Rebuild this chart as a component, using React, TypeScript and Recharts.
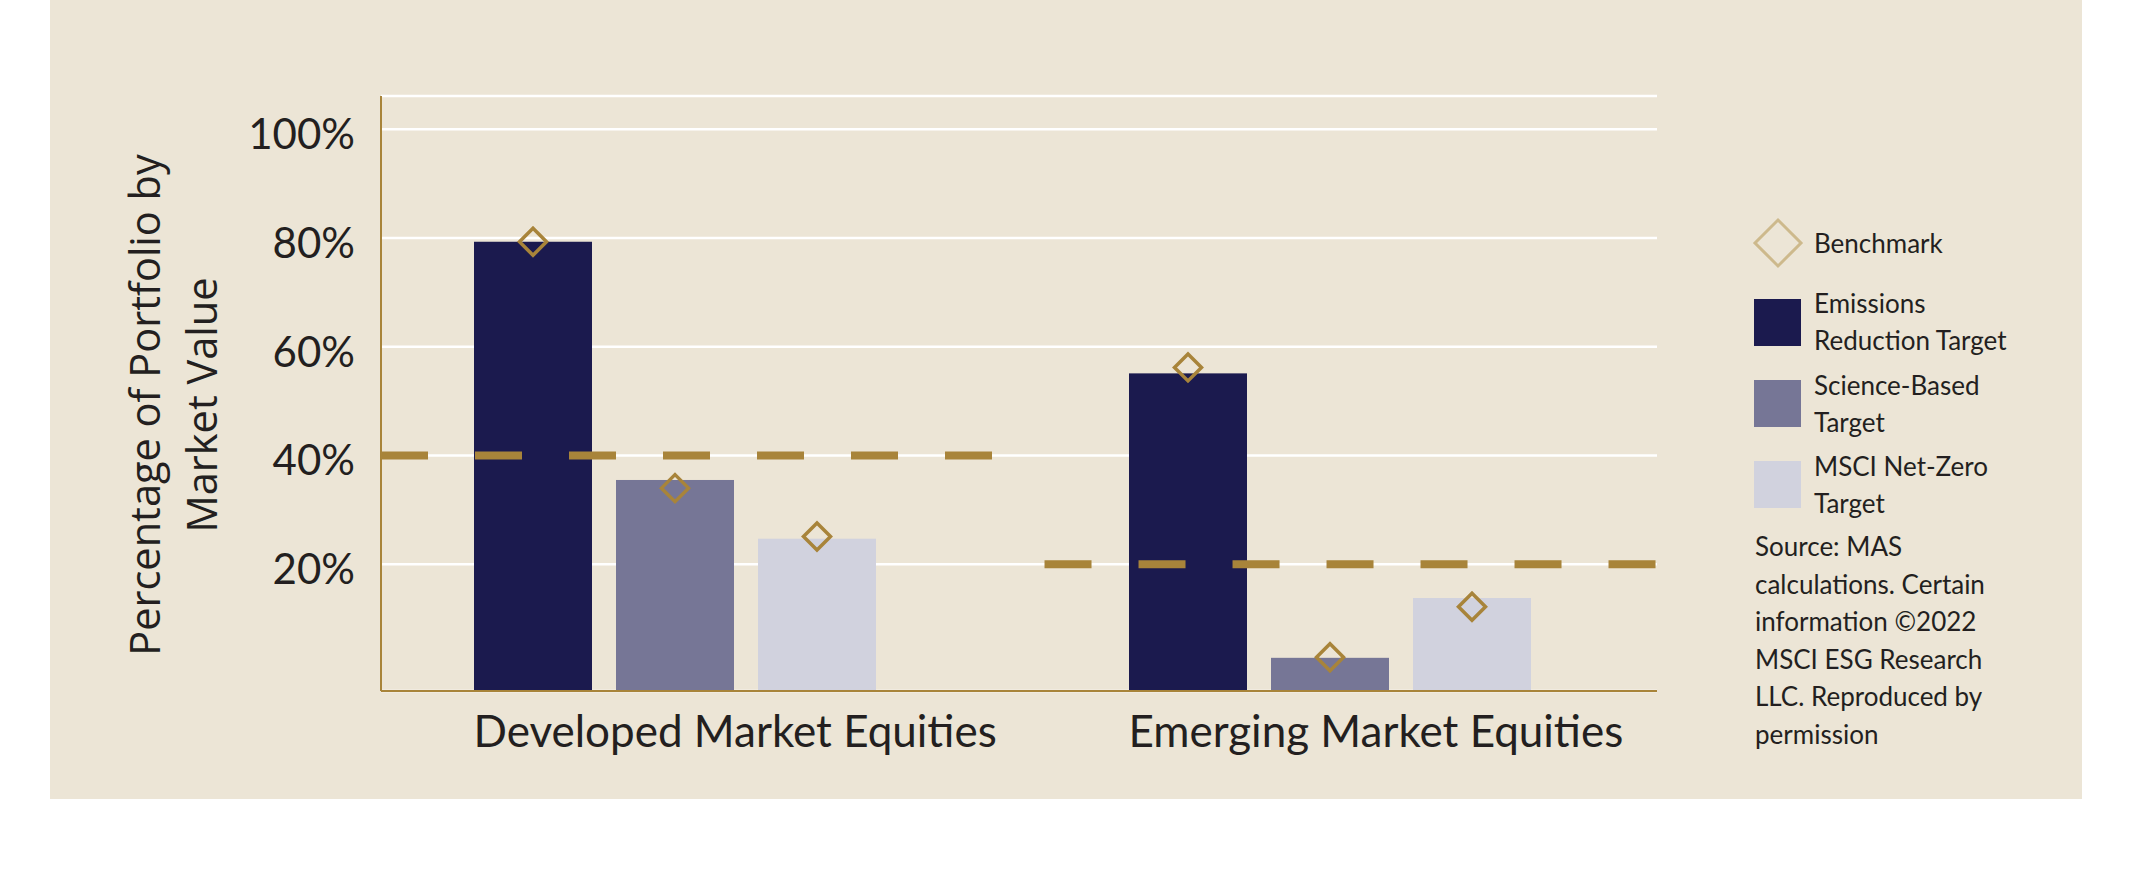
import React from 'react';
import { BarChart, Bar, XAxis, YAxis, CartesianGrid, ReferenceLine } from 'recharts';

// values, in percent of portfolio market value
const categories = ['Developed Market Equities', 'Emerging Market Equities'];
const emissionsReduction = [79.3, 55.1];
const scienceBased = [35.5, 2.8];
const netZero = [24.7, 13.8];
const benchEmissions = [79.3, 56.2];
const benchScience = [34.0, 2.9];
const benchNetZero = [25.1, 12.2];
const targetLines = [40, 20];
const yTicks = [20, 40, 60, 80, 100];

const seriesNames = ['Emissions Reduction Target', 'Science-Based Target', 'MSCI Net-Zero Target'];
const benchmarkName = 'Benchmark';
const yTitle = ['Percentage of Portfolio by', 'Market Value'];
const sourceNote =
  'Source: MAS calculations. Certain information ©2022 MSCI ESG Research LLC. Reproduced by permission';

const Y_MIN = -3.3;
const Y_MAX = 106.1;
const BAR_SIZE = 118;
const BAR_GAP = 24;
const GROUP_W = 3 * BAR_SIZE + 2 * BAR_GAP;
const TRIM = 0.04;

const GOLD = '#A8843A';
const LIGHT_GOLD = '#CDB98C';
const TEXT = '#231F20';
const colors = ['#1B1A4E', '#767696', '#D1D2DE'];

const rows = categories.map((name, i) => ({
  name,
  idx: i,
  ert: emissionsReduction[i],
  sbt: scienceBased[i],
  nz: netZero[i],
  ertB: benchEmissions[i],
  sbtB: benchScience[i],
  nzB: benchNetZero[i],
}));

const series = [
  { key: 'ert', bench: 'ertB', name: seriesNames[0], color: colors[0] },
  { key: 'sbt', bench: 'sbtB', name: seriesNames[1], color: colors[1] },
  { key: 'nz', bench: 'nzB', name: seriesNames[2], color: colors[2] },
];

const diamondPath = (cx: number, cy: number, r: number) =>
  `M${cx},${cy - r}L${cx + r},${cy}L${cx},${cy + r}L${cx - r},${cy}Z`;

// bar from the axis floor up to the value, with the benchmark diamond on it
const barWithBenchmark = (key: string, bench: string) => (props: any) => {
  const { x, y, width, height, fill, payload } = props;
  const bottom = y + height;
  const perUnit = height / (payload[key] - Y_MIN);
  const by = bottom - (payload[bench] - Y_MIN) * perUnit;
  const cx = x + width / 2;
  return (
    <g>
      <rect x={x} y={y} width={width} height={height} fill={fill} />
      <path d={diamondPath(cx, by, 13.5)} fill="none" stroke={GOLD} strokeWidth={3.5} />
    </g>
  );
};

const YTick = (props: any) => {
  const { x, y, payload } = props;
  return (
    <text x={x} y={y + 5} dy="0.355em" textAnchor="end" fontSize={42} fill={TEXT}>
      {payload.value}%
    </text>
  );
};

const XTick = (props: any) => {
  const { x, y, payload } = props;
  return (
    <text x={x - GROUP_W / 2} y={y + 54} textAnchor="start" fontSize={44} fill={TEXT}>
      {payload.value}
    </text>
  );
};

const legendTops = [298.6, 380, 461.3];
const legendTextTops = [285.3, 366.8, 447.9];

export default function App() {
  return (
    <div style={{ position: 'absolute', left: 0, top: 0, width: 2134, height: 869, fontFamily: 'Lato', color: TEXT }}>
      <div style={{ position: 'absolute', left: 50, top: 0, width: 2032, height: 799, background: '#ECE5D6' }} />
      <div style={{ position: 'absolute', left: 0, top: 0 }}>
        <BarChart
          width={2134}
          height={869}
          data={rows}
          margin={{ top: 96, right: 477, bottom: 118, left: 0 }}
          barSize={BAR_SIZE}
          barGap={BAR_GAP}
        >
          <CartesianGrid vertical={false} stroke="#FFFFFF" strokeWidth={2.5} />
          <XAxis
            dataKey="name"
            height={60}
            padding={{ left: -34, right: 0 }}
            tickLine={false}
            tickSize={0}
            interval={0}
            axisLine={{ stroke: GOLD, strokeWidth: 2 }}
            tick={<XTick />}
          />
          {/* plain 0..n axis spanning the plot, used to place the target segments per category */}
          <XAxis
            xAxisId="band"
            dataKey="idx"
            type="number"
            domain={[0, categories.length]}
            allowDataOverflow
            hide
          />
          <YAxis
            width={381}
            domain={[Y_MIN, Y_MAX]}
            allowDataOverflow
            ticks={yTicks}
            tickLine={false}
            tickSize={0}
            tickMargin={26}
            axisLine={{ stroke: GOLD, strokeWidth: 2 }}
            tick={<YTick />}
            label={{
              content: () => (
                <text
                  transform="rotate(-90)"
                  textAnchor="middle"
                  fontSize={41.5}
                  fill={TEXT}
                  style={{ fontFamily: '"Open Sans"' }}
                >
                  <tspan x={-405} y={160}>{yTitle[0]}</tspan>
                  <tspan x={-405} y={217}>{yTitle[1]}</tspan>
                </text>
              ),
            }}
          />
          {series.map((s) => (
            <Bar
              key={s.key}
              name={s.name}
              dataKey={(d: any) => [Y_MIN, d[s.key]]}
              fill={s.color}
              isAnimationActive={false}
              shape={barWithBenchmark(s.key, s.bench)}
            />
          ))}
          {targetLines.map((t, i) => (
            <ReferenceLine
              key={i}
              xAxisId="band"
              segment={[
                { x: i + (i > 0 ? TRIM : 0), y: t },
                { x: i + 1 - (i < targetLines.length - 1 ? TRIM : 0), y: t },
              ]}
              stroke={GOLD}
              strokeWidth={8}
              strokeDasharray="47 47"
            />
          ))}
        </BarChart>
      </div>

      {/* legend */}
      <svg style={{ position: 'absolute', left: 1750, top: 215 }} width={56} height={56}>
        <path d={diamondPath(28, 28, 23)} fill="none" stroke={LIGHT_GOLD} strokeWidth={3} />
      </svg>
      <div style={{ position: 'absolute', left: 1814, top: 225.3, fontSize: 26, lineHeight: '37px' }}>{benchmarkName}</div>
      {series.map((s, i) => (
        <React.Fragment key={s.key}>
          <div
            style={{ position: 'absolute', left: 1754, top: legendTops[i], width: 47, height: 47, background: s.color }}
          />
          <div
            style={{ position: 'absolute', left: 1814, top: legendTextTops[i], width: 220, fontSize: 26, lineHeight: '37px' }}
          >
            {s.name}
          </div>
        </React.Fragment>
      ))}
      <div style={{ position: 'absolute', left: 1755, top: 528.3, width: 250, fontSize: 26, lineHeight: '37.5px' }}>
        {sourceNote}
      </div>
    </div>
  );
}
